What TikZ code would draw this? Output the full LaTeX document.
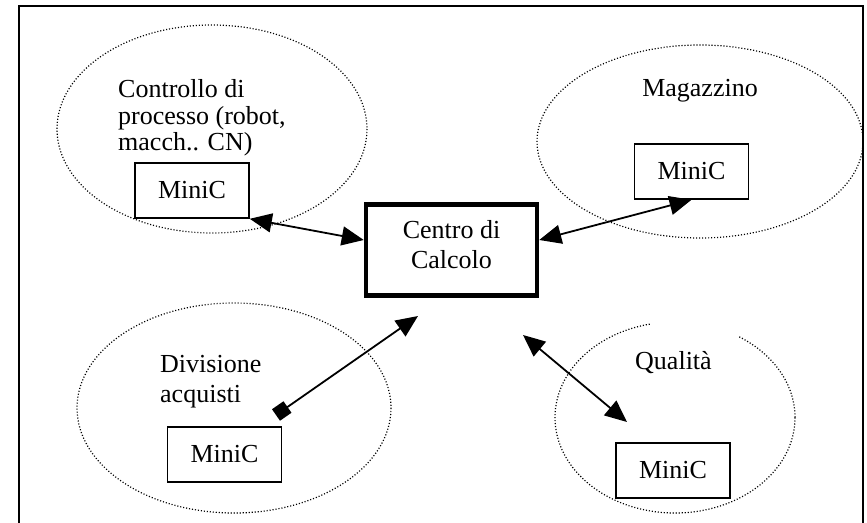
\documentclass[tikz,border=0pt]{standalone}
\usepackage{fontspec}
\setmainfont{Liberation Serif}
\usetikzlibrary{arrows.meta}
\begin{document}
\begin{tikzpicture}[x=1pt,y=-1pt,
  region/.style={draw, line width=1.2pt, dash pattern=on 1.1pt off 1.9pt},
  minic/.style={draw, line width=1.6pt, minimum width=114pt, minimum height=55pt, inner sep=0pt, font=\fontsize{26}{28}\selectfont},
  centro/.style={draw, line width=4.5pt, minimum width=171pt, minimum height=91pt, inner sep=0pt, align=center, text depth=12pt, font=\fontsize{26}{30}\selectfont},
  lbl/.style={inner sep=0pt, align=left},
  link/.style={line width=1.8pt, {Triangle[length=22pt,width=19pt]}-{Triangle[length=22pt,width=19pt]}},
  buy/.style={line width=1.8pt, {Square[length=14pt,width=14pt]}-{Triangle[length=22pt,width=19pt]}},
]
\useasboundingbox (0,0) rectangle (867,522);
\clip (0,0) rectangle (867,522);
% outer frame
\draw[line width=2pt] (19,6) rectangle (863,545);
% regions
\draw[region] (212,129) ellipse [x radius=155, y radius=104];
\draw[region] (700,141.5) ellipse [x radius=163, y radius=96.5];
\draw[region] (234,408) ellipse [x radius=157, y radius=105];
\draw[region] (675,417.5) ellipse [x radius=120, y radius=95.5];
\fill[white] (650,310) rectangle (738,345);
% labels
\node[lbl, anchor=base west, font=\fontsize{26}{26.7}\selectfont] (tc) at (118,150.7) {Controllo di\\processo (robot,\\macch.. CN)};
\node[lbl, anchor=base, font=\fontsize{26}{28}\selectfont] (tm) at (700,96) {Magazzino};
\node[lbl, anchor=base west, font=\fontsize{26}{30}\selectfont] (td) at (160,402.7) {Divisione\\acquisti};
\node[lbl, anchor=base west, font=\fontsize{26}{28}\selectfont] (tq) at (635,369) {Qualità};
% boxes
\node[centro] (c) at (451.5,250) {Centro di\\Calcolo};
\node[minic] (m1) at (192,190.5) {MiniC};
\node[minic] (m2) at (691.5,171.5) {MiniC};
\node[minic] (m3) at (224.5,454.5) {MiniC};
\node[minic] (m4) at (673,470.5) {MiniC};
% connector ends
\coordinate (dsq) at (276,415);
\coordinate (dtip) at (418,316);
\coordinate (qtop) at (523,335);
\coordinate (qbot) at (627,422);
% connectors
\draw[link] (m1.south east) -- ([yshift=10pt]c.west);
\draw[link] ([yshift=10pt]c.east) -- (m2.south);
\draw[buy] (dsq) -- (dtip);
\draw[link] (qtop) -- (qbot);
\end{tikzpicture}
\end{document}
